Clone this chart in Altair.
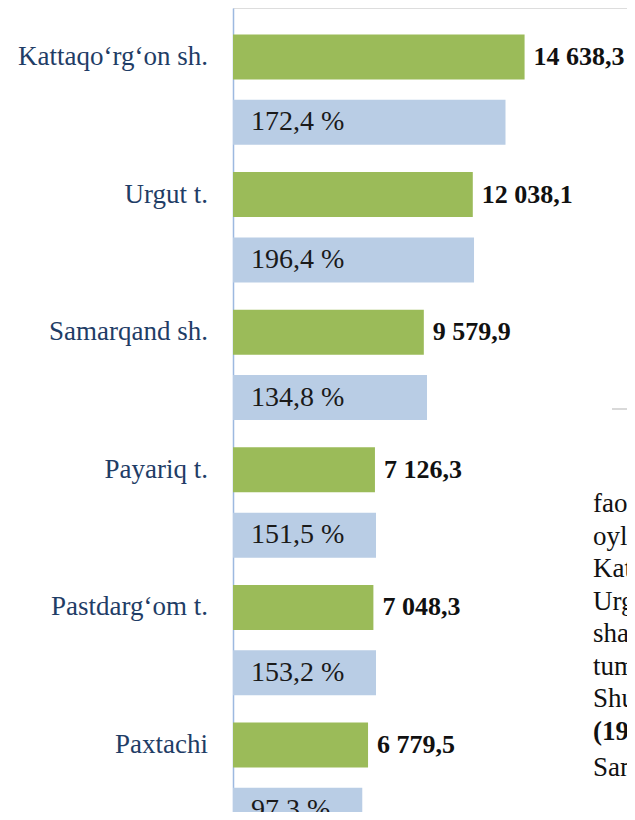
import altair as alt
import pandas as pd

# ---- data ----
regions = ["Kattaqo‘rg‘on sh.", "Urgut t.", "Samarqand sh.", "Payariq t.", "Pastdarg‘om t.", "Paxtachi"]
volume = [14638.3, 12038.1, 9579.9, 7126.3, 7048.3, 6779.5]
volume_labels = ["14 638,3", "12 038,1", "9 579,9", "7 126,3", "7 048,3", "6 779,5"]
growth_labels = ["172,4 %", "196,4 %", "134,8 %", "151,5 %", "153,2 %", "97,3 %"]
growth_bar = [13680, 12100, 9740, 7180, 7180, 6490]

# fragments of the neighbouring page text visible at the right edge
side_text = ["fao", "oyl", "Kat", "Urg", "sha", "tum", "Shu", "(19", "Sam"]
side_bold = [False, False, False, False, False, False, False, True, False]

green = pd.DataFrame({
    "region": regions,
    "value": volume,
    "label": volume_labels,
    "row": [2 * i for i in range(len(regions))],
})
blue = pd.DataFrame({
    "value": growth_bar,
    "label": growth_labels,
    "row": [2 * i + 0.95 for i in range(len(regions))],
})
side = pd.DataFrame({
    "t": side_text,
    "bold": side_bold,
    "line": list(range(len(side_text))),
})

FONT = "Liberation Serif, Times New Roman, serif"
xs = alt.Scale(domain=[0, 19780], nice=False, zero=True)
ys = alt.Scale(domain=[-0.712, 10.974], reverse=True, nice=False, zero=False)
yaxis = alt.Axis(labels=False, ticks=False, grid=False, domain=True,
                 domainColor="#9DB9E0", domainWidth=1.5, title=None)

half = 0.327

green_bars = alt.Chart(green).transform_calculate(
    y0=f"datum.row - {half}", y1=f"datum.row + {half}"
).mark_bar(color="#9BBB59", clip=True).encode(
    x=alt.X("value:Q", scale=xs, axis=None),
    x2=alt.datum(0),
    y=alt.Y("y0:Q", scale=ys, axis=yaxis),
    y2="y1:Q",
)

blue_bars = alt.Chart(blue).transform_calculate(
    y0=f"datum.row - {half}", y1=f"datum.row + {half}"
).mark_bar(color="#B9CDE5", clip=True).encode(
    x=alt.X("value:Q", scale=xs, axis=None),
    x2=alt.datum(0),
    y=alt.Y("y0:Q", scale=ys, axis=yaxis),
    y2="y1:Q",
)

region_text = alt.Chart(green).mark_text(
    align="right", baseline="middle", dx=-25, font=FONT, fontSize=27, color="#1F3D66"
).encode(
    x=alt.datum(0),
    y=alt.Y("row:Q", scale=ys),
    text="region:N",
)

value_text = alt.Chart(green).mark_text(
    align="left", baseline="middle", dx=9, font=FONT, fontSize=26,
    fontWeight="bold", color="#111111"
).encode(
    x=alt.X("value:Q", scale=xs),
    y=alt.Y("row:Q", scale=ys),
    text="label:N",
)

growth_text = alt.Chart(blue).mark_text(
    align="left", baseline="middle", dx=18, font=FONT, fontSize=28, color="#1a1a1a"
).encode(
    x=alt.datum(0),
    y=alt.Y("row:Q", scale=ys),
    text="label:N",
)

side_base = alt.Chart(side).transform_calculate(
    ypx="datum.line < 8 ? 496 + 32.5 * datum.line : 496 + 32.5 * datum.line + 4"
)
side_regular = side_base.transform_filter("!datum.bold").mark_text(
    align="left", baseline="middle", font=FONT, fontSize=27, color="#111111"
).encode(
    x=alt.value(360),
    y=alt.Y("ypx:Q", scale=None),
    text="t:N",
)
side_heavy = side_base.transform_filter("datum.bold").mark_text(
    align="left", baseline="middle", font=FONT, fontSize=27, fontWeight="bold",
    color="#111111"
).encode(
    x=alt.value(360),
    y=alt.Y("ypx:Q", scale=None),
    text="t:N",
)

sep_line = alt.Chart(pd.DataFrame({"a": [0]})).mark_rule(
    color="#D9D9D9", strokeWidth=2
).encode(x=alt.value(379), x2=alt.value(402), y=alt.value(401))

chart = alt.layer(
    blue_bars, green_bars, region_text, value_text, growth_text,
    side_regular, side_heavy, sep_line
).properties(
    width=394, height=804,
    autosize=alt.AutoSizeParams(type="none"),
    padding={"left": 225, "top": 0, "right": 0, "bottom": 0},
).configure_view(stroke=None).configure(background="white")

chart.save("out.html", embed_options={"renderer": "svg", "actions": False})
